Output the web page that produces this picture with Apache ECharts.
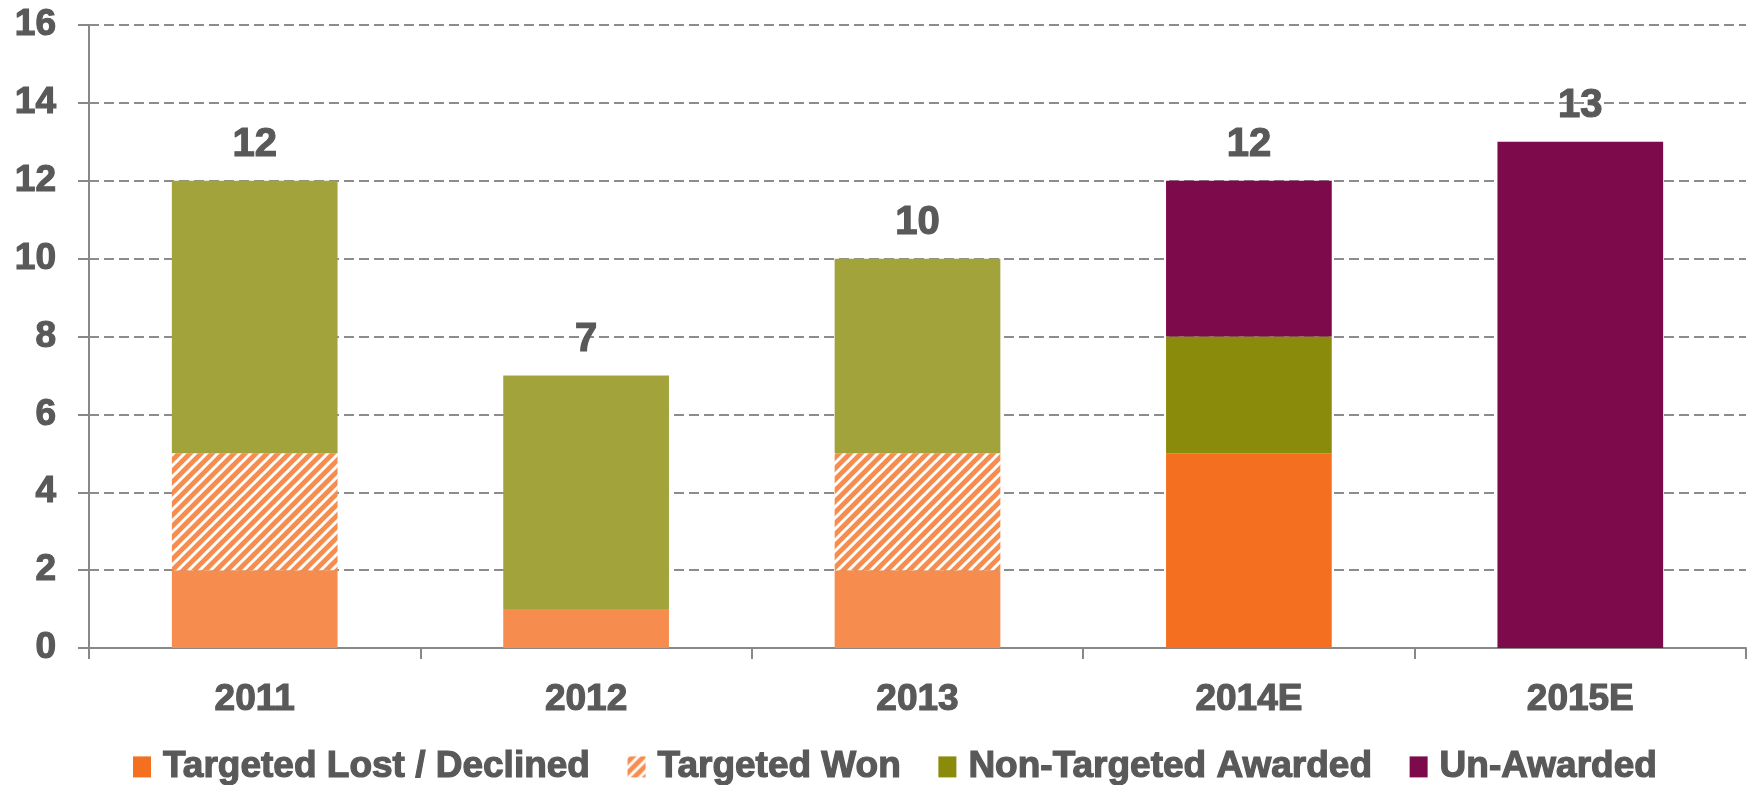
<!DOCTYPE html>
<html>
<head>
<meta charset="utf-8">
<style>
  html, body { margin: 0; padding: 0; background: #fff; }
  #chart { width: 1749px; height: 785px; }
</style>
<script src="https://cdn.jsdelivr.net/npm/echarts@6/dist/echarts.min.js"></script>
</head>
<body>
<div id="chart"></div>
<script>
// categories and series values
const years = ['2011', '2012', '2013', '2014E', '2015E']
const targetedLost = [2, 1, 2, 5, 0]
const targetedWon = [3, 0, 3, 0, 0]
const nonTargeted = [7, 6, 5, 3, 0]
const unAwarded = [0, 0, 0, 4, 13]
const yTicks = [0, 2, 4, 6, 8, 10, 12, 14, 16]

// actual years use lighter tones, estimates use full tones
const isEstimate = years.map(y => y.endsWith('E'))
const totals = years.map((_, i) => targetedLost[i] + targetedWon[i] + nonTargeted[i] + unAwarded[i])

const textColor = '#595959'
const fontFamily = 'Arial, "Liberation Sans", sans-serif'
// heavier look for the bold text
const heavy = { color: textColor, fontWeight: 'bold', fontFamily, textBorderColor: textColor, textBorderWidth: 1.2 }

// hatched fill for "Targeted Won"
const makeHatch = () => {
  const s = 11
  const c = document.createElement('canvas')
  c.width = s
  c.height = s
  const ctx = c.getContext('2d')
  ctx.fillStyle = '#F68D4E'
  ctx.fillRect(0, 0, s, s)
  ctx.strokeStyle = '#ffffff'
  ctx.lineWidth = 3
  ctx.beginPath()
  ctx.moveTo(-2, s + 2); ctx.lineTo(s + 2, -2)
  ctx.moveTo(-2, 2); ctx.lineTo(2, -2)
  ctx.moveTo(s - 2, s + 2); ctx.lineTo(s + 2, s - 2)
  ctx.stroke()
  return c
}
const hatch = { image: makeHatch(), repeat: 'repeat' }

const chart = echarts.init(document.getElementById('chart'))

const option = {
  animation: false,
  textStyle: { fontFamily },
  grid: { left: 89, right: 3, top: 25, bottom: 137 },
  legend: {
    data: ['Targeted Lost / Declined', 'Targeted Won', 'Non-Targeted Awarded', 'Un-Awarded'],
    bottom: -6,
    left: 128,
    icon: 'rect',
    itemWidth: 18,
    itemHeight: 21,
    itemGap: 37,
    textStyle: Object.assign({ fontSize: 37, padding: [0, 0, 0, 7] }, heavy)
  },
  xAxis: {
    type: 'category',
    data: years,
    axisLine: { lineStyle: { color: '#888', width: 2 } },
    axisTick: { show: true, length: 11, lineStyle: { color: '#888', width: 2 } },
    axisLabel: Object.assign({ fontSize: 37, margin: 33 }, heavy)
  },
  yAxis: {
    type: 'value',
    min: yTicks[0],
    max: yTicks[yTicks.length - 1],
    interval: 2,
    axisLine: { show: true, lineStyle: { color: '#888', width: 2 } },
    axisTick: { show: true, length: 11, lineStyle: { color: '#888', width: 2 } },
    axisLabel: Object.assign({ fontSize: 37, margin: 33 }, heavy),
    splitLine: { lineStyle: { color: '#8c8c8c', width: 2, type: [10, 5] } }
  },
  series: [
    {
      name: 'Targeted Lost / Declined',
      type: 'bar',
      stack: 'total',
      barWidth: '50%',
      itemStyle: { color: '#F47020' },
      data: targetedLost.map((v, i) => ({
        value: v,
        itemStyle: { color: isEstimate[i] ? '#F47020' : '#F68D4E' }
      }))
    },
    {
      name: 'Targeted Won',
      type: 'bar',
      stack: 'total',
      itemStyle: { color: hatch },
      data: targetedWon
    },
    {
      name: 'Non-Targeted Awarded',
      type: 'bar',
      stack: 'total',
      itemStyle: { color: '#8B8B0B' },
      data: nonTargeted.map((v, i) => ({
        value: v,
        itemStyle: { color: isEstimate[i] ? '#8B8B0B' : '#A2A33B' }
      }))
    },
    {
      name: 'Un-Awarded',
      type: 'bar',
      stack: 'total',
      itemStyle: { color: '#7D0A4A' },
      data: unAwarded
    },
    {
      // invisible markers carrying the total labels
      name: 'Total',
      type: 'scatter',
      symbolSize: 1,
      itemStyle: { color: 'rgba(0,0,0,0)', opacity: 1 },
      label: Object.assign({
        show: true,
        position: 'top',
        distance: 15,
        fontSize: 40
      }, heavy),
      data: totals
    }
  ]
}

chart.setOption(option)
</script>
</body>
</html>
